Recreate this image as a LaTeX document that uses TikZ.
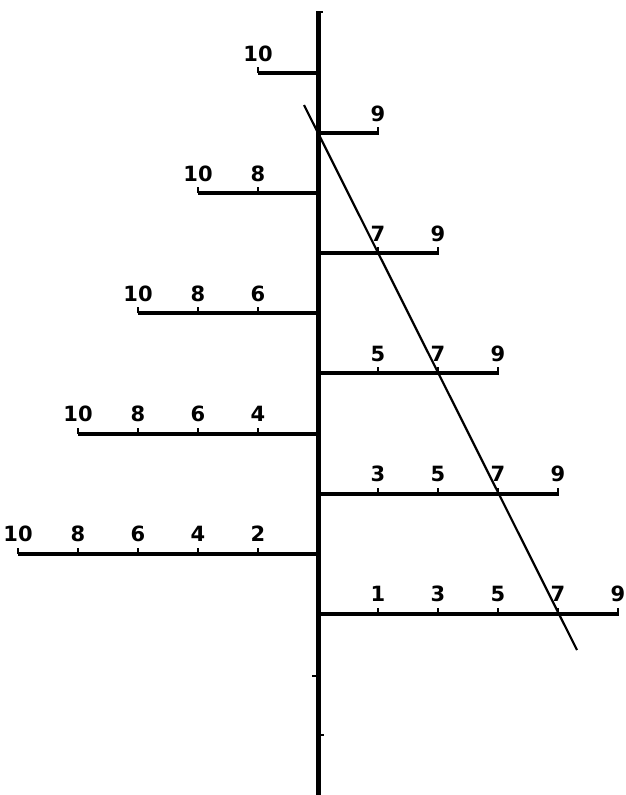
\documentclass[tikz,border=0pt]{standalone}
\usepackage{fontspec}
\setmainfont{DejaVu Sans}
\begin{document}
\begin{tikzpicture}[x=1pt,y=-1pt,
  axisline/.style={line width=5pt},
  barline/.style={line width=4pt},
  tickline/.style={line width=2.4pt},
  diag/.style={line width=2.2pt},
  lab/.style={font=\fontsize{21}{21}\selectfont\bfseries, inner sep=0pt, anchor=base}]
\useasboundingbox (0,0) rectangle (626,795);
% axis
\coordinate (atop) at (318,11);
\coordinate (abot) at (318,795);
\draw[axisline] (atop) -- (abot);
\draw[tickline] (318,12) -- (323,12);
\draw[tickline] (318,676) -- (312,676);
\draw[tickline] (318,735) -- (324,735);
% left bars
\foreach \k in {1,...,5}{
  \pgfmathsetmacro{\yy}{73+120.2*(\k-1)}
  \draw[barline] (318,\yy) -- ({318-60*\k},\yy);
  \foreach \j in {1,...,\k}{
    \pgfmathtruncatemacro{\lbl}{2*(\j+5-\k)}
    \draw[tickline] ({318-60*\j+0},\yy) -- ({318-60*\j},{\yy-6});
    \node[lab] at ({318-60*\j},{\yy-12}) {\lbl};
  }
}
% right bars
\foreach \k in {1,...,5}{
  \pgfmathsetmacro{\yy}{133+120.2*(\k-1)}
  \draw[barline] (318,\yy) -- ({318+60*\k+1},\yy);
  \foreach \j in {1,...,\k}{
    \pgfmathtruncatemacro{\lbl}{2*(\j+5-\k)-1}
    \draw[tickline] ({318+60*\j},\yy) -- ({318+60*\j},{\yy-6});
    \node[lab] at ({318+60*\j},{\yy-12}) {\lbl};
  }
}
% diagonal
\coordinate (d1) at (304,105);
\coordinate (d2) at (577,650);
\draw[diag] (d1) -- (d2);
\end{tikzpicture}
\end{document}
